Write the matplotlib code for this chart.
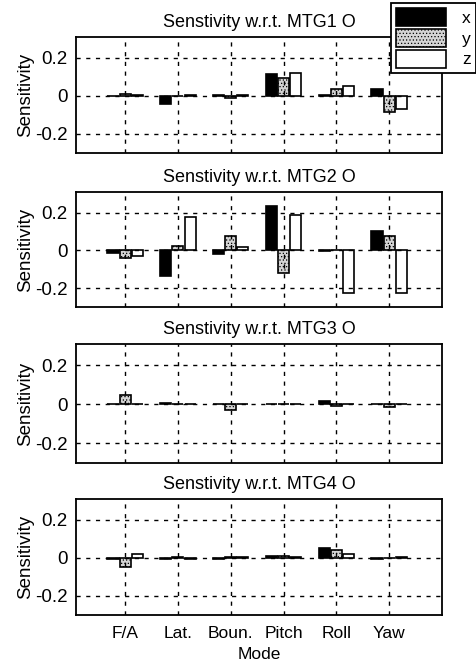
import numpy as np
import matplotlib.pyplot as plt
from matplotlib.patches import Patch

plt.rcParams['font.family'] = ['Liberation Sans', 'DejaVu Sans']

modes = ['F/A', 'Lat.', 'Boun.', 'Pitch', 'Roll', 'Yaw']
titles = ['Senstivity w.r.t. MTG1 O', 'Senstivity w.r.t. MTG2 O',
          'Senstivity w.r.t. MTG3 O', 'Senstivity w.r.t. MTG4 O']

# sensitivities per mode, one list per direction
mtg1_x = [0.002, -0.044, 0.004, 0.117, 0.005, 0.035]
mtg1_y = [0.008, 0.002, -0.010, 0.097, 0.035, -0.083]
mtg1_z = [0.003, 0.003, 0.003, 0.120, 0.050, -0.071]

mtg2_x = [-0.013, -0.133, -0.017, 0.237, -0.003, 0.103]
mtg2_y = [-0.038, 0.025, 0.078, -0.117, 0.001, 0.078]
mtg2_z = [-0.027, 0.175, 0.020, 0.187, -0.225, -0.225]

mtg3_x = [0.001, 0.008, 0.005, 0.002, 0.020, 0.001]
mtg3_y = [0.050, 0.005, -0.028, 0.002, -0.010, -0.012]
mtg3_z = [0.005, 0.002, 0.003, 0.002, 0.001, 0.001]

mtg4_x = [-0.003, -0.005, -0.005, 0.008, 0.052, -0.003]
mtg4_y = [-0.048, 0.005, 0.003, 0.008, 0.040, 0.002]
mtg4_z = [0.022, -0.003, 0.003, 0.004, 0.020, 0.003]

data = [(mtg1_x, mtg1_y, mtg1_z), (mtg2_x, mtg2_y, mtg2_z),
        (mtg3_x, mtg3_y, mtg3_z), (mtg4_x, mtg4_y, mtg4_z)]

fig = plt.figure(figsize=(4.77, 6.67), dpi=100)
W, H = 477, 667
tops = [37, 192, 344, 499]
bots = [153, 307, 463, 615]
left, right = 76, 442

pos = np.arange(1, len(modes) + 1)
w = 0.21
styles = [dict(facecolor='black'),
          dict(facecolor='#d4d4d4', hatch='.....'),
          dict(facecolor='white')]
plt.rcParams['hatch.color'] = '#888888'
plt.rcParams['hatch.linewidth'] = 0.5

for i in range(4):
    ax = fig.add_axes([left / W, 1 - bots[i] / H, (right - left) / W, (bots[i] - tops[i]) / H])
    for k, vals in enumerate(data[i]):
        ax.bar(pos + (k - 1) * 0.23, vals, width=w, edgecolor='black', linewidth=1.2, **styles[k])
    ax.set_xlim(0.07, 7.0)
    ax.set_ylim(-0.3, 0.31)
    ax.set_yticks([-0.2, 0, 0.2])
    ax.set_yticklabels(['-0.2', '0', '0.2'])
    ax.set_xticks(pos)
    if i == 3:
        ax.set_xticklabels(modes)
        ax.set_xlabel('Mode', fontsize=12.5, labelpad=4)
    else:
        ax.set_xticklabels([])
    ax.grid(True, color='black', linestyle=(0, (3, 4)), linewidth=1.0)
    ax.set_axisbelow(False)
    ax.tick_params(direction='in', length=0, labelsize=13.5, pad=6)
    ax.tick_params(axis='x', labelsize=12.5, pad=8)
    for s in ax.spines.values():
        s.set_linewidth(1.3)
    ax.set_ylabel('Sensitivity', fontsize=13.5, labelpad=1)
    ax.set_title(titles[i], fontsize=13, pad=7)

handles = [Patch(edgecolor='black', linewidth=1.2, **st) for st in styles]
leg = fig.legend(handles, ['x', 'y', 'z'], loc='upper right', bbox_to_anchor=(0.998, 0.996),
                 borderaxespad=0, fontsize=12.5, handlelength=2.9, handleheight=1.2,
                 fancybox=False, framealpha=1, edgecolor='black', borderpad=0.3,
                 labelspacing=0.18, handletextpad=0.9)
leg.get_frame().set_linewidth(1.3)

fig.savefig('out.png', dpi=100)
